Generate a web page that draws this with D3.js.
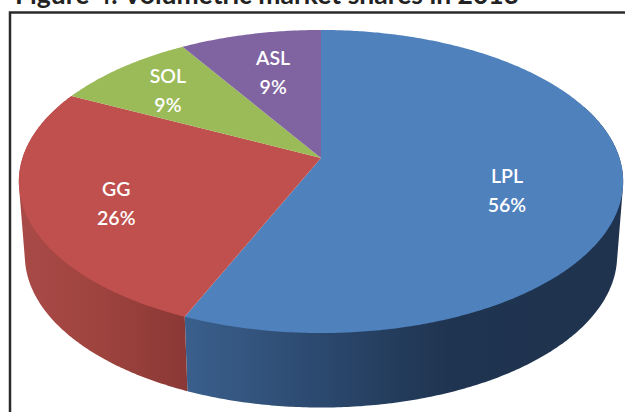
<!DOCTYPE html>
<html>
<head>
<meta charset="utf-8">
<script src="https://cdn.jsdelivr.net/npm/d3@7"></script>
<style>
    html, body { margin: 0; padding: 0; background: #fff; }
    svg { display: block; }
</style>
</head>
<body>
<script>
/* Chart data */
const categories = ["LPL", "GG", "SOL", "ASL"];
const shares = [56.4, 26, 8.8, 8.8];
const topColors = ["#4f81bd", "#c0504d", "#9bbb59", "#8064a2"];
const titleText = "Figure 4: Volumetric market shares in 2013";

/* Layout constants */
const width = 625;
const height = 412;
const apexX = 321;
const apexY = 158;
const radiusX = 298.5;
const radiusY = 147.9;
const tilt = 0.155;
const labelRadius = [0.63, 0.7, 0.75, 0.6];
const labelShiftX = [-2, -1, 0, -3];
const labelShiftY = [12, 7, 0, -9];

/* Top rim ellipse and the bottom rim ellipse */
const topEllipse = { cy: 181, rx: 302, ry: 151.5 };
const bottomEllipse = { cy: 255, rx: 296, ry: 152 };

const svg = d3.select("body").append("svg")
    .attr("width", width)
    .attr("height", height);

const pie = d3.pie().sort(null).value(d => d);
const arcs = pie(shares);

/**
 * Projects a pie angle and radius fraction onto the tilted disc
 */
function project(angle, r) {
    const w = 1 + tilt * r * Math.cos(angle);
    return [
        apexX + radiusX * r * Math.sin(angle) / w,
        apexY - radiusY * r * Math.cos(angle) / w
    ];
}

function arcPoints(start, end) {
    const steps = Math.max(2, Math.ceil((end - start) / 0.01));
    return d3.range(steps + 1).map(i => project(start + (end - start) * i / steps, 1));
}

/* Moves a point of the top rim to the matching point of the bottom rim */
function toBottomRim(p) {
    return [
        apexX + (p[0] - apexX) * bottomEllipse.rx / topEllipse.rx,
        bottomEllipse.cy + (p[1] - topEllipse.cy) * bottomEllipse.ry / topEllipse.ry
    ];
}

const line = d3.line();

/* Gradients for the rim */
const defs = svg.append("defs");
function sideGradient(id, stops) {
    const g = defs.append("linearGradient")
        .attr("id", id)
        .attr("gradientUnits", "userSpaceOnUse")
        .attr("x1", 0).attr("x2", width)
        .attr("y1", 0).attr("y2", 0);
    stops.forEach(s => g.append("stop").attr("offset", s[0]).attr("stop-color", s[1]));
}
sideGradient("sideBlue", [[0.3, "#3a5f8c"], [0.5, "#2c4a70"], [0.72, "#1f3450"], [1, "#1f334e"]]);
sideGradient("sideRed", [[0.03, "#a94a47"], [0.15, "#a0443f"], [0.3, "#8a3836"]]);

/* Draw rim, only the two front slices show it. The hull also takes in the straight wall at the sides */
const sideSlices = [
    { start: 1.2, end: arcs[0].endAngle, fill: "url(#sideBlue)" },
    { start: arcs[1].startAngle, end: arcs[1].endAngle, fill: "url(#sideRed)" }
];
svg.selectAll(".side").data(sideSlices).enter()
    .append("path")
    .attr("class", "side")
    .attr("fill", d => d.fill)
    .attr("d", d => {
        const upper = arcPoints(d.start, d.end);
        const lower = upper.map(toBottomRim);
        return line(d3.polygonHull(upper.concat(lower))) + "Z";
    });

/* Draw top faces */
svg.selectAll(".slice").data(arcs).enter()
    .append("path")
    .attr("class", "slice")
    .attr("fill", (d, i) => topColors[i])
    .attr("d", d => line([[apexX, apexY]].concat(arcPoints(d.startAngle, d.endAngle))) + "Z");

/* Labels */
const labels = svg.selectAll(".label").data(arcs).enter()
    .append("text")
    .attr("class", "label")
    .attr("text-anchor", "middle")
    .attr("fill", "#fff")
    .style("font-family", "Lato, 'Open Sans', sans-serif")
    .style("font-size", "19.5px")
    .style("font-weight", "600")
    .attr("transform", (d, i) => {
        const p = project((d.startAngle + d.endAngle) / 2, labelRadius[i]);
        return "translate(" + (p[0] + labelShiftX[i]) + "," + (p[1] + labelShiftY[i]) + ")";
    });
labels.append("tspan").attr("x", 0).attr("y", -6).text((d, i) => categories[i]);
labels.append("tspan").attr("x", 0).attr("y", 23).text(d => Math.round(d.value) + "%");

/* Frame and clipped title */
svg.append("path")
    .attr("d", "M10," + height + "V12.5H" + width)
    .attr("fill", "none")
    .attr("stroke", "#2b2b2b")
    .attr("stroke-width", 2.5);

svg.append("text")
    .attr("x", 15)
    .attr("y", 4)
    .attr("fill", "#222")
    .style("font-family", "Lato, 'Open Sans', sans-serif")
    .style("font-size", "26.5px")
    .style("font-weight", "700")
    .text(titleText);
</script>
</body>
</html>
